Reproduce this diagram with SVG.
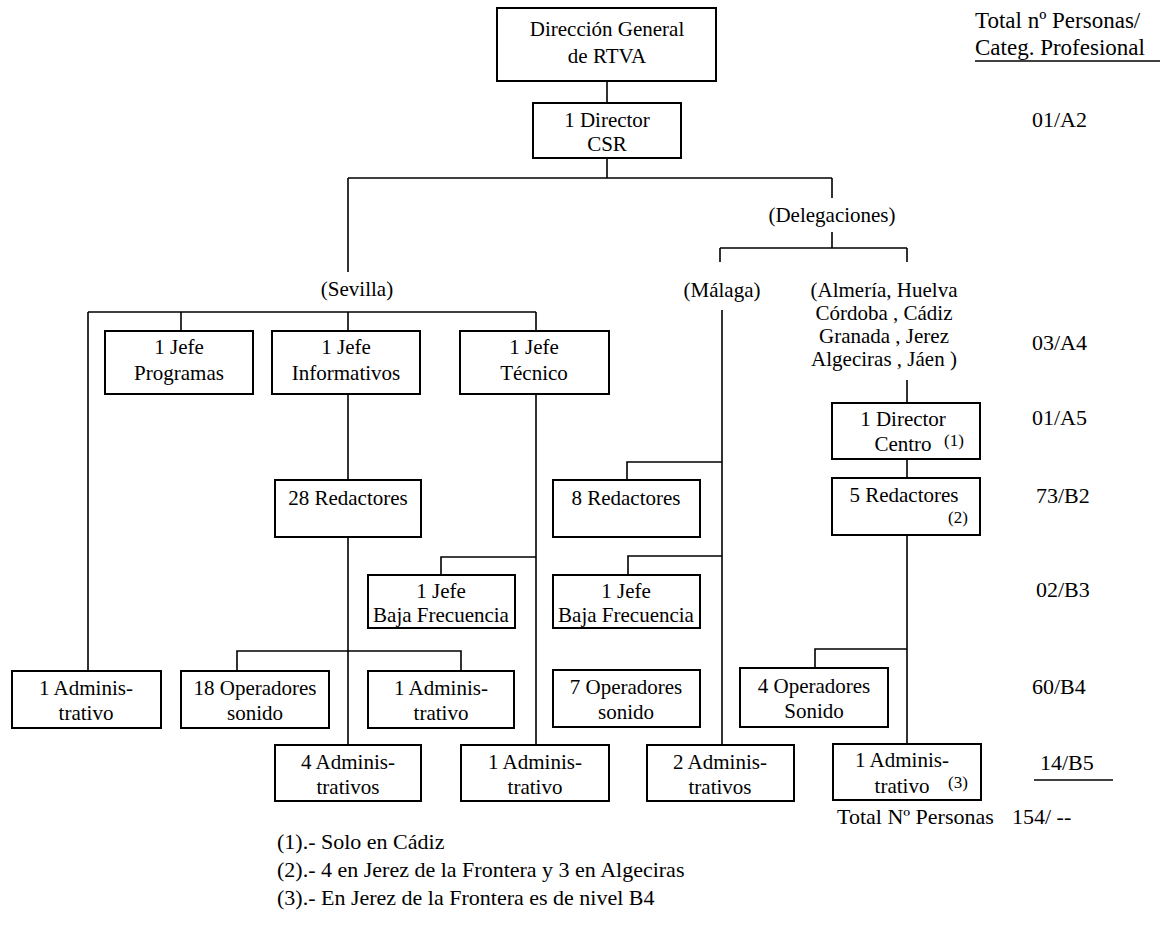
<svg xmlns="http://www.w3.org/2000/svg" width="1169" height="928" viewBox="0 0 1169 928">
<style>
  .box{fill:#fff;stroke:#000;stroke-width:2}
  .ln{stroke:#000;stroke-width:1.6;fill:none}
  text{font-family:"Liberation Serif","Times New Roman",serif;font-size:21px;fill:#000}
  .c{text-anchor:middle}
  .sm{font-size:17px}
  .col{font-size:22px}
  .fn{font-size:22px}
</style>
<rect width="1169" height="928" fill="#fff"/>

<g id="connectors">
  <path class="ln" d="M607 81V103 M607 158V178 M348 178H832"/>
  <path class="ln" d="M348 178V272"/>
  <path class="ln" d="M832 178V198 M832 232V248 M720 248H907 M720 248V262 M907 248V262"/>
  <path class="ln" d="M722 310V745"/>
  <path class="ln" d="M907 380V403 M907 459V478 M907 535V744"/>
  <path class="ln" d="M88 312H536 M88 312V671 M181 312V331 M348 312V331 M536 312V331"/>
  <path class="ln" d="M348 394V480 M348 537V745 M536 394V745"/>
  <path class="ln" d="M441 575V557H536"/>
  <path class="ln" d="M237 671V651H461V671"/>
  <path class="ln" d="M627 480V462H722 M628 575V556H722"/>
  <path class="ln" d="M815 668V649H907"/>
</g>

<g id="labels">
  <text x="975" y="28" style="font-size:23px">Total nº Personas/</text>
  <text x="975" y="55" style="font-size:23px">Categ. Profesional</text>
  <path class="ln" d="M975 61H1160"/>
  <text class="col" x="1032" y="127">01/A2</text>
  <text class="col" x="1032" y="350">03/A4</text>
  <text class="col" x="1032" y="425">01/A5</text>
  <text class="col" x="1036" y="503">73/B2</text>
  <text class="col" x="1036" y="597">02/B3</text>
  <text class="col" x="1032" y="694">60/B4</text>
  <text class="col" x="1040" y="770">14/B5</text>
  <path class="ln" d="M1034 780H1113"/>
  <text class="col" x="837" y="824">Total Nº Personas</text>
  <text class="col" x="1012" y="824">154/ --</text>
  <text class="c" x="357" y="296">(Sevilla)</text>
  <text class="c" x="832" y="222">(Delegaciones)</text>
  <text class="c" x="722" y="297">(Málaga)</text>
  <text class="c" x="884" y="297">(Almería, Huelva</text>
  <text class="c" x="884" y="320">Córdoba  , Cádiz</text>
  <text class="c" x="884" y="343">Granada  , Jerez</text>
  <text class="c" x="884" y="366">Algeciras , Jáen )</text>
  <text class="fn" x="277" y="849">(1).- Solo en Cádiz</text>
  <text class="fn" x="277" y="877">(2).- 4 en Jerez de la Frontera y 3 en Algeciras</text>
  <text class="fn" x="277" y="905">(3).- En Jerez de la Frontera es de nivel B4</text>
</g>

<g id="n-direccion-general">
  <rect class="box" x="497" y="8" width="219" height="73"/>
  <text class="c" x="607" y="36">Dirección General</text>
  <text class="c" x="607" y="63">de RTVA</text>
</g>
<g id="n-director-csr">
  <rect class="box" x="533" y="103" width="148" height="55"/>
  <text class="c" x="607" y="127">1 Director</text>
  <text class="c" x="607" y="151">CSR</text>
</g>
<g id="n-jefe-programas">
  <rect class="box" x="105" y="331" width="148" height="63"/>
  <text class="c" x="179" y="354">1 Jefe</text>
  <text class="c" x="179" y="380">Programas</text>
</g>
<g id="n-jefe-informativos">
  <rect class="box" x="272" y="331" width="148" height="63"/>
  <text class="c" x="346" y="354">1 Jefe</text>
  <text class="c" x="346" y="380">Informativos</text>
</g>
<g id="n-jefe-tecnico">
  <rect class="box" x="460" y="331" width="149" height="63"/>
  <text class="c" x="534" y="354">1 Jefe</text>
  <text class="c" x="534" y="380">Técnico</text>
</g>
<g id="n-28-redactores">
  <rect class="box" x="275" y="480" width="146" height="57"/>
  <text class="c" x="348" y="505">28 Redactores</text>
</g>
<g id="n-8-redactores">
  <rect class="box" x="553" y="480" width="147" height="57"/>
  <text class="c" x="626" y="505">8 Redactores</text>
</g>
<g id="n-director-centro">
  <rect class="box" x="832" y="403" width="148" height="56"/>
  <text class="c" x="903" y="426">1 Director</text>
  <text class="c" x="903" y="451">Centro</text>
  <text class="sm" x="944" y="446">(1)</text>
</g>
<g id="n-5-redactores">
  <rect class="box" x="832" y="478" width="148" height="57"/>
  <text class="c" x="904" y="502">5 Redactores</text>
  <text class="sm" x="948" y="523">(2)</text>
</g>
<g id="n-jefe-bf-sevilla">
  <rect class="box" x="368" y="575" width="147" height="53"/>
  <text class="c" x="441" y="598">1 Jefe</text>
  <text class="c" x="441" y="622">Baja Frecuencia</text>
</g>
<g id="n-jefe-bf-malaga">
  <rect class="box" x="553" y="575" width="147" height="53"/>
  <text class="c" x="626" y="598">1 Jefe</text>
  <text class="c" x="626" y="622">Baja Frecuencia</text>
</g>
<g id="n-admin-sevilla">
  <rect class="box" x="12" y="671" width="149" height="57"/>
  <text class="c" x="86" y="695">1 Adminis-</text>
  <text class="c" x="86" y="720">trativo</text>
</g>
<g id="n-18-operadores">
  <rect class="box" x="181" y="671" width="148" height="57"/>
  <text class="c" x="255" y="695">18 Operadores</text>
  <text class="c" x="255" y="720">sonido</text>
</g>
<g id="n-admin-informativos">
  <rect class="box" x="368" y="671" width="146" height="57"/>
  <text class="c" x="441" y="695">1 Adminis-</text>
  <text class="c" x="441" y="720">trativo</text>
</g>
<g id="n-7-operadores">
  <rect class="box" x="553" y="670" width="147" height="57"/>
  <text class="c" x="626" y="694">7 Operadores</text>
  <text class="c" x="626" y="719">sonido</text>
</g>
<g id="n-4-operadores">
  <rect class="box" x="740" y="668" width="148" height="59"/>
  <text class="c" x="814" y="693">4 Operadores</text>
  <text class="c" x="814" y="718">Sonido</text>
</g>
<g id="n-4-administrativos">
  <rect class="box" x="275" y="745" width="146" height="56"/>
  <text class="c" x="348" y="769">4 Adminis-</text>
  <text class="c" x="348" y="794">trativos</text>
</g>
<g id="n-admin-tecnico">
  <rect class="box" x="461" y="745" width="148" height="56"/>
  <text class="c" x="535" y="769">1 Adminis-</text>
  <text class="c" x="535" y="794">trativo</text>
</g>
<g id="n-2-administrativos">
  <rect class="box" x="647" y="745" width="147" height="56"/>
  <text class="c" x="720" y="769">2 Adminis-</text>
  <text class="c" x="720" y="794">trativos</text>
</g>
<g id="n-admin-delegaciones">
  <rect class="box" x="833" y="744" width="148" height="56"/>
  <text class="c" x="902" y="767">1 Adminis-</text>
  <text class="c" x="902" y="793">trativo</text>
  <text class="sm" x="948" y="788">(3)</text>
</g>
</svg>
